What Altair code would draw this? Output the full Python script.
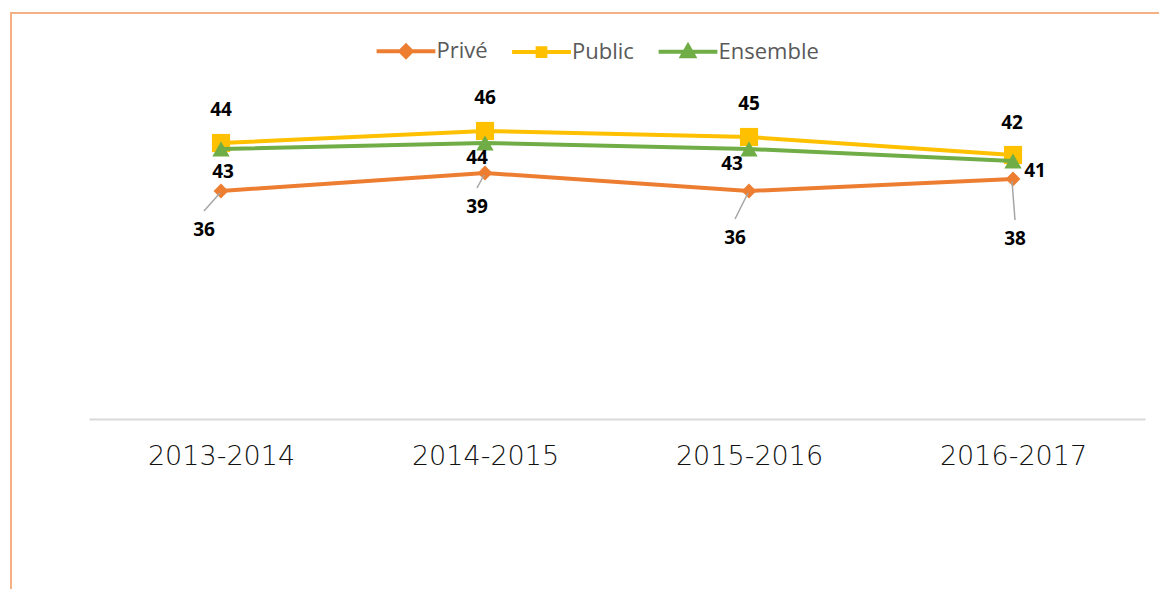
import altair as alt
import pandas as pd

years = ["2013-2014", "2014-2015", "2015-2016", "2016-2017"]
series_names = ["Privé", "Public", "Ensemble"]
prive = [36, 39, 36, 38]
public = [44, 46, 45, 42]
ensemble = [43, 44, 43, 41]
values = {"Privé": prive, "Public": public, "Ensemble": ensemble}

colors = ["#ED7D31", "#FFC000", "#70AD47"]
shapes = ["diamond", "square", "triangle-up"]
marker_sizes = [220, 330, 300]

# data-label placement: pixel offsets of each label from its point
lab_dx = {"Privé": [-17, -8, -14, 2], "Public": [0, 0, 0, -1], "Ensemble": [2, -8, -17, 22]}
lab_dy = {"Privé": [39, 34, 47, 60], "Public": [-33, -33, -33, -32], "Ensemble": [23, 15, 15, 10]}

rows = []
for s in series_names:
    for i, y in enumerate(years):
        rows.append({"series": s, "year": y, "value": values[s][i],
                     "dx": lab_dx[s][i], "dy": lab_dy[s][i]})
df = pd.DataFrame(rows)

# leader lines for the Privé labels (from label to point)
lead_rows = []
for i, y in enumerate(years):
    lead_rows.append({"year": y, "value": prive[i],
                      "ox1": lab_dx["Privé"][i], "oy1": lab_dy["Privé"][i] - 19,
                      "ox2": -1, "oy2": 2})
lead_df = pd.DataFrame(lead_rows)

x_enc = alt.X("year:N", sort=years,
              scale=alt.Scale(type="point", padding=0.5),
              axis=alt.Axis(title=None, labelAngle=0, ticks=False, grid=False,
                            domainColor="#D9D9D9", domainWidth=2,
                            labelFont="DejaVu Sans", labelFontSize=27,
                            labelFontWeight=300,
                            labelColor="#111111", labelPadding=24))
y_enc = alt.Y("value:Q", scale=alt.Scale(domain=[-2, 50], nice=False, zero=False),
              axis=None)

base = alt.Chart(df).encode(x=x_enc, y=y_enc)

border = alt.Chart(df).mark_rect(fill="transparent", stroke="#F4B183", strokeWidth=1.8).encode(
    x=alt.value(-78), x2=alt.value(1300), y=alt.value(-94), y2=alt.value(800))

layers = [border]
for s, c, sh, sz in zip(series_names, colors, shapes, marker_sizes):
    sub = base.transform_filter(alt.datum.series == s)
    layers.append(sub.mark_line(color=c, strokeWidth=4))
    layers.append(sub.mark_point(shape=sh, size=sz, filled=True, color=c, opacity=1))

leaders = alt.Chart(lead_df).mark_rule(
    color="#A6A6A6", strokeWidth=1.5,
    xOffset=alt.ExprRef("datum.ox1"), yOffset=alt.ExprRef("datum.oy1"),
    x2Offset=alt.ExprRef("datum.ox2"), y2Offset=alt.ExprRef("datum.oy2"),
).encode(x=x_enc, y=y_enc, x2="year:N", y2="value:Q")
layers.append(leaders)

labels = base.mark_text(font="Open Sans", fontWeight="bold", fontSize=19,
                        color="#000000", align="center", baseline="middle",
                        dx=alt.ExprRef("datum.dx"), dy=alt.ExprRef("datum.dy")).encode(
    text="value:Q")
layers.append(labels)

legend_paths = [
    "M-4.2,0H4.2M0,-0.8L0.8,0L0,0.8L-0.8,0Z",
    "M-4.2,0H4.2M-0.55,-0.55H0.55V0.55H-0.55Z",
    "M-4.2,0H4.2M0,-0.85L0.85,0.65H-0.85Z",
]
leg = alt.Legend(title=None, orient="none", legendX=306, legendY=-67,
                 direction="horizontal", labelFont="Open Sans", labelFontSize=22,
                 labelColor="#595959", labelOffset=19.5, columnPadding=15.5,
                 symbolSize=196, symbolStrokeWidth=4)
legend_layer = base.transform_filter("false").mark_point(filled=True, opacity=1, size=196).encode(
    fill=alt.Fill("series:N", scale=alt.Scale(domain=series_names, range=colors), legend=leg),
    stroke=alt.Stroke("series:N", scale=alt.Scale(domain=series_names, range=colors), legend=leg),
    shape=alt.Shape("series:N", scale=alt.Scale(domain=series_names, range=legend_paths), legend=leg),
)
layers.append(legend_layer)

chart = alt.layer(*layers).properties(
    width=1056, height=312,
    autosize=alt.AutoSizeParams(type="none"),
    padding={"left": 81, "top": 99, "right": 14, "bottom": 170},
).configure_view(stroke=None)

chart.save("out.html", embed_options={"renderer": "svg", "actions": False})
